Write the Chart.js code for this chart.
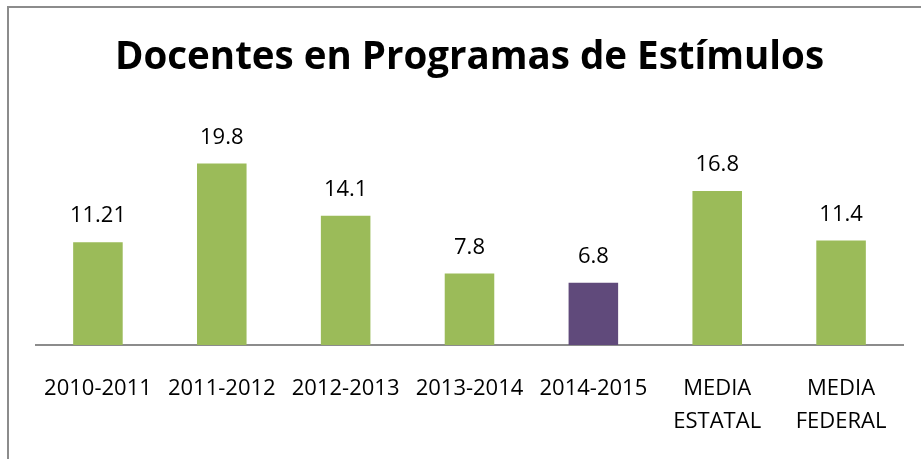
<!DOCTYPE html>
<html>
<head>
<meta charset="utf-8">
<script src="https://cdn.jsdelivr.net/npm/chart.js@4/dist/chart.umd.min.js"></script>
<style>
  html, body { margin: 0; padding: 0; background: #fff; }
  #wrap { position: absolute; left: 0; top: 0; width: 921px; height: 459px; }
  #frame { position: absolute; left: 7px; top: 6px; width: 930px; height: 470px;
           border-left: 2px solid #8c8c8c; border-top: 2px solid #8c8c8c; }
</style>
</head>
<body>
<div id="wrap">
  <div id="frame"></div>
  <canvas id="myBarChart" width="921" height="459"></canvas>
</div>
<script>
var categories = ["2010-2011", "2011-2012", "2012-2013", "2013-2014", "2014-2015",
                  ["MEDIA", "ESTATAL"], ["MEDIA", "FEDERAL"]];
var valueLabels = ["11.21", "19.8", "14.1", "7.8", "6.8", "16.8", "11.4"];
var values = [11.21, 19.8, 14.1, 7.8, 6.8, 16.8, 11.4];

var green = "#9bbb59";
var purple = "#604a7b";
var barColors = [];
for (var i = 0; i < values.length; i++) {
    barColors[i] = (i == 4) ? purple : green;
}

// write the value above each bar
var valueLabelPlugin = {
    id: 'valueLabels',
    afterDatasetsDraw: function(chart) {
        var ctx = chart.ctx;
        var meta = chart.getDatasetMeta(0);
        ctx.save();
        ctx.font = '22px "Open Sans"';
        ctx.fillStyle = '#000';
        ctx.textAlign = 'center';
        ctx.textBaseline = 'middle';
        meta.data.forEach(function(bar, i) {
            ctx.fillText(valueLabels[i], bar.x, bar.y - 26);
        });
        ctx.restore();
    }
};

new Chart(document.getElementById("myBarChart"), {
    type: 'bar',
    data: {
        labels: categories,
        datasets: [{
            data: values,
            backgroundColor: barColors,
            categoryPercentage: 1.0,
            barPercentage: 0.4
        }]
    },
    options: {
        responsive: false,
        animation: false,
        layout: { padding: { left: 36, right: 18, top: 0, bottom: -6 } },
        plugins: {
            legend: { display: false },
            tooltip: { enabled: false },
            title: {
                display: true,
                text: 'Docentes en Programas de Estímulos',
                color: '#000',
                font: { family: '"Open Sans"', size: 38.5, weight: 'bold' },
                padding: { top: 35, bottom: 7 }
            }
        },
        scales: {
            x: {
                grid: { display: false, drawTicks: false },
                border: { display: true, color: '#8c8c8c', width: 2 },
                ticks: {
                    color: '#000',
                    font: { family: '"Open Sans"', size: 22, lineHeight: 1.5 },
                    padding: 27,
                    maxRotation: 0,
                    autoSkip: false
                }
            },
            y: {
                display: false,
                min: 0,
                max: 28
            }
        }
    },
    plugins: [valueLabelPlugin]
});
</script>
</body>
</html>
